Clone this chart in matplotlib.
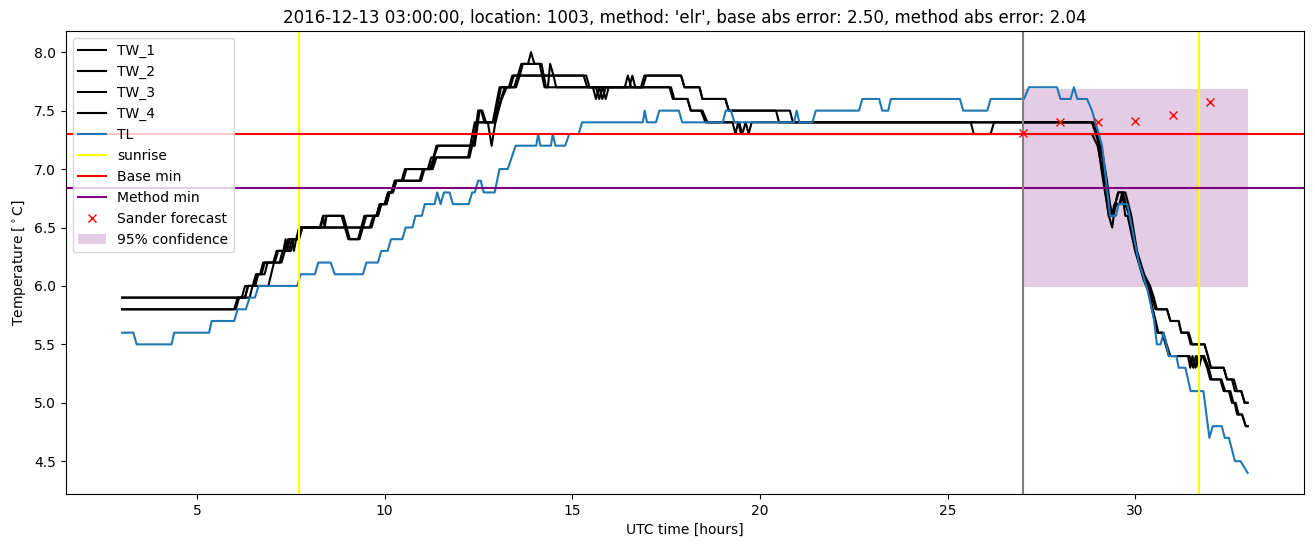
import matplotlib
matplotlib.use("Agg")
import matplotlib.pyplot as plt

# (hour, temperature) vertices
tw_1 = [(3.0, 5.9), (6.19, 5.9), (6.28, 6.0), (6.48, 6.0), (6.57, 6.1), (6.68, 6.1), (6.76, 6.2),
        (7.03, 6.2), (7.12, 6.3), (7.34, 6.3), (7.43, 6.4), (7.68, 6.4), (7.77, 6.5), (8.27, 6.5),
        (8.36, 6.6), (8.85, 6.6), (9.03, 6.4), (9.29, 6.4), (9.46, 6.6), (9.78, 6.6), (9.87, 6.7),
        (10.00, 6.7), (10.09, 6.8), (10.18, 6.8), (10.27, 6.9), (10.45, 6.9), (10.54, 7.0),
        (11.15, 7.0), (11.24, 7.1), (11.30, 7.1), (11.38, 7.2), (12.36, 7.2), (12.49, 7.5),
        (12.57, 7.5), (12.66, 7.4), (12.88, 7.4), (13.06, 7.7), (13.31, 7.7), (13.40, 7.8),
        (13.55, 7.8), (13.64, 7.9), (13.82, 7.9), (13.90, 8.0), (13.99, 7.9), (14.13, 7.9),
        (14.26, 7.7), (15.55, 7.7), (15.63, 7.6), (15.72, 7.7), (15.80, 7.6), (15.89, 7.7),
        (16.40, 7.7), (16.48, 7.8), (16.57, 7.7), (16.83, 7.7), (16.92, 7.8), (17.90, 7.8),
        (17.99, 7.7), (18.39, 7.7), (18.47, 7.6), (19.08, 7.6), (19.17, 7.5), (20.43, 7.5),
        (20.51, 7.4), (28.85, 7.4), (28.99, 7.3), (29.12, 7.1), (29.21, 6.9), (29.30, 6.7),
        (29.37, 6.6), (29.47, 6.7), (29.55, 6.8), (29.65, 6.8), (29.74, 6.7), (29.85, 6.6),
        (30.02, 6.3), (30.20, 6.1), (30.36, 6.0), (30.45, 5.9), (30.54, 5.8), (30.85, 5.8),
        (30.94, 5.7), (31.16, 5.7), (31.23, 5.6), (31.43, 5.6), (31.52, 5.5), (31.85, 5.5),
        (31.94, 5.4), (32.02, 5.3), (32.36, 5.3), (32.45, 5.2), (32.63, 5.2), (32.72, 5.1),
        (32.83, 5.1), (32.92, 5.0), (33.0, 5.0)]

tw_2 = [(3.0, 5.9), (6.27, 5.9), (6.36, 6.0), (6.52, 6.0), (6.61, 6.1), (6.72, 6.1), (6.80, 6.2),
        (7.07, 6.2), (7.16, 6.3), (7.30, 6.3), (7.36, 6.4), (7.40, 6.3), (7.47, 6.4), (7.72, 6.4),
        (7.81, 6.5), (8.30, 6.5), (8.36, 6.6), (8.40, 6.5), (8.45, 6.6), (8.90, 6.6), (9.07, 6.4),
        (9.33, 6.4), (9.51, 6.6), (9.82, 6.6), (9.91, 6.7), (10.05, 6.7), (10.13, 6.8),
        (10.22, 6.8), (10.31, 6.9), (10.49, 6.9), (10.58, 7.0), (11.20, 7.0), (11.42, 7.2),
        (12.40, 7.2), (12.53, 7.5), (12.60, 7.5), (12.70, 7.4), (12.92, 7.4), (13.10, 7.7),
        (13.35, 7.7), (13.44, 7.8), (13.60, 7.8), (13.68, 7.9), (14.18, 7.9), (14.30, 7.7),
        (14.35, 7.7), (14.41, 7.9), (14.50, 7.8), (14.57, 7.7), (15.63, 7.7), (15.72, 7.6),
        (15.80, 7.7), (15.89, 7.6), (15.97, 7.7), (16.52, 7.7), (16.60, 7.8), (16.68, 7.7),
        (16.88, 7.7), (16.97, 7.8), (17.90, 7.8), (17.99, 7.7), (18.39, 7.7), (18.47, 7.6),
        (19.08, 7.6), (19.17, 7.5), (20.80, 7.5), (20.88, 7.4), (28.90, 7.4), (29.03, 7.3),
        (29.15, 7.1), (29.25, 6.9), (29.33, 6.7), (29.40, 6.6), (29.50, 6.7), (29.58, 6.7),
        (29.66, 6.8), (29.74, 6.8), (29.82, 6.7), (29.90, 6.6), (30.05, 6.3), (30.24, 6.1),
        (30.40, 6.0), (30.50, 5.9), (30.58, 5.8), (30.85, 5.8), (30.94, 5.7), (31.16, 5.7),
        (31.23, 5.6), (31.40, 5.6), (31.48, 5.5), (31.85, 5.5), (31.94, 5.4), (32.02, 5.3),
        (32.36, 5.3), (32.45, 5.2), (32.58, 5.2), (32.66, 5.1), (32.83, 5.1), (32.92, 5.0),
        (33.0, 5.0)]

tw_3 = [(3.0, 5.8), (5.99, 5.8), (6.08, 5.9), (6.40, 5.9), (6.48, 6.0), (6.90, 6.0), (7.05, 6.2),
        (7.25, 6.2), (7.34, 6.3), (7.50, 6.3), (7.58, 6.4), (7.66, 6.4), (7.74, 6.5), (9.65, 6.5),
        (9.74, 6.6), (9.82, 6.6), (9.91, 6.7), (10.05, 6.7), (10.13, 6.8), (10.22, 6.8),
        (10.31, 6.9), (10.93, 6.9), (11.02, 7.0), (11.24, 7.0), (11.33, 7.1), (12.22, 7.1),
        (12.40, 7.4), (12.75, 7.4), (12.85, 7.2), (12.95, 7.4), (13.10, 7.6), (13.20, 7.7),
        (13.45, 7.7), (13.55, 7.8), (15.37, 7.8), (15.46, 7.7), (17.59, 7.7), (17.68, 7.6),
        (18.07, 7.6), (18.16, 7.5), (18.43, 7.5), (18.55, 7.4), (19.27, 7.4), (19.35, 7.3),
        (19.42, 7.4), (19.50, 7.3), (28.85, 7.3), (29.00, 7.2), (29.12, 7.0), (29.21, 6.8),
        (29.30, 6.6), (29.39, 6.5), (29.47, 6.7), (29.55, 6.8), (29.65, 6.8), (29.74, 6.6),
        (29.80, 6.6), (30.00, 6.3), (30.23, 6.05), (30.36, 5.95), (30.45, 5.8), (30.52, 5.7),
        (30.59, 5.6), (30.72, 5.6), (30.81, 5.5), (30.90, 5.4), (31.41, 5.4), (31.47, 5.3),
        (31.53, 5.4), (31.61, 5.3), (31.68, 5.4), (31.80, 5.4), (31.92, 5.3), (32.00, 5.2),
        (32.27, 5.2), (32.36, 5.1), (32.50, 5.1), (32.58, 5.0), (32.65, 5.0), (32.72, 4.9),
        (32.85, 4.9), (32.95, 4.8), (33.0, 4.8)]

tw_4 = [(3.0, 5.8), (6.03, 5.8), (6.12, 5.9), (6.28, 5.9), (6.36, 6.0), (6.55, 6.0), (6.63, 6.1),
        (6.80, 6.1), (6.88, 6.2), (7.20, 6.2), (7.28, 6.3), (7.45, 6.3), (7.53, 6.4), (7.58, 6.3),
        (7.64, 6.4), (7.72, 6.5), (9.60, 6.5), (9.70, 6.6), (9.78, 6.6), (9.87, 6.7), (10.00, 6.7),
        (10.09, 6.8), (10.18, 6.8), (10.27, 6.9), (10.97, 6.9), (11.06, 7.0), (11.28, 7.0),
        (11.38, 7.1), (12.26, 7.1), (12.40, 7.3), (12.48, 7.4), (12.95, 7.4), (13.03, 7.5),
        (13.12, 7.6), (13.25, 7.7), (13.50, 7.7), (13.60, 7.8), (15.30, 7.8), (15.40, 7.7),
        (17.63, 7.7), (17.72, 7.6), (18.07, 7.6), (18.16, 7.5), (18.47, 7.5), (18.60, 7.4),
        (19.45, 7.4), (19.53, 7.3), (19.62, 7.4), (19.70, 7.3), (19.78, 7.4), (25.62, 7.4),
        (25.70, 7.3), (26.15, 7.3), (26.24, 7.4), (28.85, 7.4), (29.00, 7.25), (29.10, 7.0),
        (29.20, 6.8), (29.30, 6.6), (29.38, 6.6), (29.45, 6.7), (29.60, 6.7), (29.68, 6.8),
        (29.75, 6.7), (29.85, 6.6), (30.03, 6.3), (30.25, 6.05), (30.38, 5.95), (30.47, 5.8),
        (30.55, 5.7), (30.62, 5.6), (30.75, 5.6), (30.84, 5.5), (30.94, 5.4), (31.45, 5.4),
        (31.55, 5.3), (31.62, 5.4), (31.70, 5.3), (31.78, 5.4), (31.84, 5.4), (31.96, 5.3),
        (32.04, 5.2), (32.30, 5.2), (32.40, 5.1), (32.54, 5.1), (32.62, 5.0), (32.68, 5.0),
        (32.76, 4.9), (32.85, 4.9), (32.95, 4.8), (33.0, 4.8)]

tl = [(3.0, 5.6), (3.30, 5.6), (3.39, 5.5), (4.32, 5.5), (4.39, 5.6), (5.32, 5.6), (5.39, 5.7),
      (5.99, 5.7), (6.08, 5.8), (6.30, 5.8), (6.40, 5.9), (6.54, 5.9), (6.64, 6.0), (7.67, 6.0),
      (7.76, 6.1), (8.14, 6.1), (8.23, 6.2), (8.56, 6.2), (8.67, 6.1), (9.42, 6.1), (9.51, 6.2),
      (9.82, 6.2), (9.91, 6.3), (10.08, 6.3), (10.17, 6.4), (10.47, 6.4), (10.56, 6.5),
      (10.74, 6.5), (10.82, 6.6), (10.99, 6.6), (11.07, 6.7), (11.33, 6.7), (11.40, 6.8),
      (11.49, 6.7), (11.58, 6.8), (11.73, 6.8), (11.82, 6.7), (12.24, 6.7), (12.33, 6.8),
      (12.40, 6.8), (12.49, 6.9), (12.56, 6.9), (12.64, 6.8), (12.93, 6.8), (13.06, 7.0),
      (13.28, 7.0), (13.49, 7.2), (14.04, 7.2), (14.09, 7.3), (14.15, 7.2), (14.43, 7.2),
      (14.48, 7.3), (14.55, 7.2), (14.81, 7.2), (14.92, 7.3), (15.17, 7.3), (15.26, 7.4),
      (16.88, 7.4), (16.93, 7.5), (16.99, 7.4), (17.23, 7.4), (17.32, 7.5), (17.84, 7.5),
      (17.93, 7.4), (19.01, 7.4), (19.09, 7.5), (19.23, 7.5), (19.32, 7.4), (20.91, 7.4),
      (20.98, 7.5), (21.05, 7.4), (21.40, 7.4), (21.49, 7.5), (22.64, 7.5), (22.73, 7.6),
      (23.18, 7.6), (23.26, 7.5), (23.42, 7.5), (23.49, 7.6), (25.33, 7.6), (25.42, 7.5),
      (26.06, 7.5), (26.15, 7.6), (27.04, 7.6), (27.17, 7.7), (27.92, 7.7), (28.01, 7.6),
      (28.28, 7.6), (28.37, 7.7), (28.46, 7.6), (28.72, 7.6), (28.85, 7.5), (29.03, 7.3),
      (29.12, 7.2), (29.21, 6.95), (29.33, 6.6), (29.49, 6.6), (29.56, 6.7), (29.79, 6.7),
      (30.10, 6.2), (30.32, 5.98), (30.50, 5.72), (30.58, 5.5), (30.68, 5.5), (30.76, 5.6),
      (30.90, 5.4), (31.10, 5.4), (31.16, 5.3), (31.34, 5.3), (31.48, 5.1), (31.82, 5.1),
      (31.98, 4.7), (32.07, 4.8), (32.31, 4.8), (32.39, 4.7), (32.50, 4.7), (32.66, 4.5),
      (32.81, 4.5), (33.0, 4.4)]

sunrise_hours = [7.71, 31.71]
forecast_start = 27.0
base_min = 7.30
method_min = 6.84
conf_half = 0.845
sander_hours = [27, 28, 29, 30, 31, 32]
sander_temp = [7.31, 7.40, 7.40, 7.41, 7.46, 7.57]

title = ("2016-12-13 03:00:00, location: 1003, method: 'elr', "
         "base abs error: 2.50, method abs error: 2.04")

fig, ax = plt.subplots(figsize=(13.15, 5.47), dpi=100)

for name, series in [("TW_1", tw_1), ("TW_2", tw_2), ("TW_3", tw_3), ("TW_4", tw_4)]:
    t, v = zip(*series)
    ax.plot(t, v, color="black", label=name)

t, v = zip(*tl)
ax.plot(t, v, color="tab:blue", label="TL")

ax.axvline(sunrise_hours[0], color="yellow", label="sunrise")
ax.axvline(sunrise_hours[1], color="yellow")
ax.axhline(base_min, color="red", label="Base min")
ax.axhline(method_min, color="purple", label="Method min")
ax.axvline(forecast_start, color="gray")
ax.plot(sander_hours, sander_temp, "rx", label="Sander forecast")
ax.fill_between([sander_hours[0], sander_hours[-1] + 1],
                method_min - conf_half, method_min + conf_half,
                color="purple", alpha=0.2, linewidth=0, label="95% confidence")

ax.set_title(title)
ax.set_xlabel("UTC time [hours]")
ax.set_ylabel(r"Temperature [$^\circ$C]")
ax.legend(loc="upper left")

fig.subplots_adjust(left=0.050, right=0.9916, top=0.943, bottom=0.097)
fig.savefig("out.png")
